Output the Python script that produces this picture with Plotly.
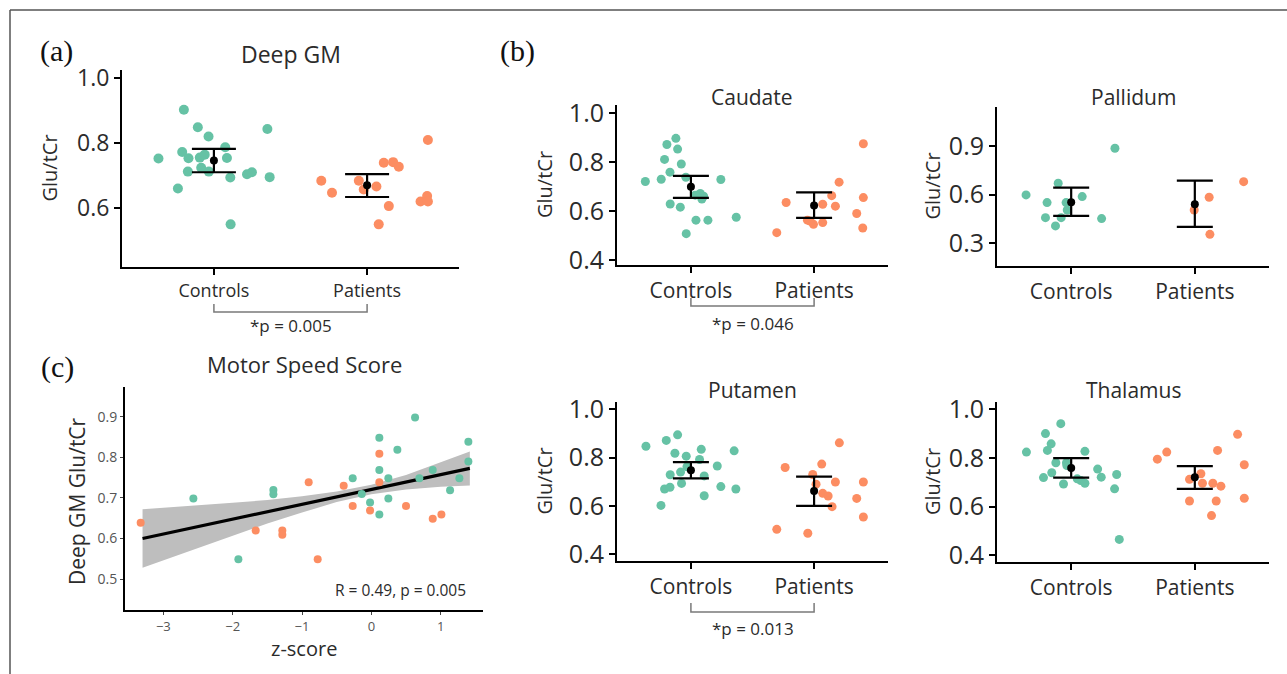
import plotly.graph_objects as go

W, H = 1287, 674
TEAL = "#66c2a5"
ORANGE = "#fc8d62"
FONT = "Open Sans"
TXT = "#2b2b2b"

groups = ["Controls", "Patients"]

# ---------------- (a) Deep GM ----------------
deep_ctrl_x = [0.804, 0.895, 0.965, 1.349, 0.638, 0.793, 0.834, 0.908, 1.074, 1.085,
               0.830, 0.917, 0.967, 1.107, 1.216, 1.248, 1.364, 0.765, 1.109, 0.940]
deep_ctrl_y = [0.903, 0.849, 0.821, 0.844, 0.753, 0.773, 0.754, 0.756, 0.788, 0.755,
               0.713, 0.725, 0.713, 0.695, 0.705, 0.711, 0.696, 0.661, 0.551, 0.765]
deep_pat_x = [1.701, 1.771, 1.946, 1.978, 2.061, 2.109, 2.170, 2.207, 2.142, 2.076,
              2.397, 2.349, 2.392, 2.397]
deep_pat_y = [0.685, 0.648, 0.685, 0.658, 0.667, 0.740, 0.742, 0.728, 0.607, 0.551,
              0.810, 0.621, 0.638, 0.621]
deep_mean = [0.747, 0.671]
deep_upper = [0.783, 0.705]
deep_lower = [0.711, 0.635]

# ---------------- (b) Caudate ----------------
caud_ctrl_x = [0.878, 0.805, 0.892, 0.786, 0.922, 0.830, 0.630, 0.759, 0.959, 1.243,
               1.076, 1.103, 1.089, 0.832, 0.914, 1.041, 1.138, 1.368, 0.962, 1.035]
caud_ctrl_y = [0.898, 0.873, 0.854, 0.812, 0.793, 0.760, 0.722, 0.731, 0.739, 0.730,
               0.673, 0.662, 0.650, 0.630, 0.617, 0.564, 0.564, 0.576, 0.509, 0.666]
caud_pat_x = [1.697, 1.773, 1.946, 1.995, 2.070, 2.070, 2.143, 2.173, 2.203, 2.400,
              2.400, 2.346, 2.395, 1.968]
caud_pat_y = [0.513, 0.636, 0.564, 0.547, 0.554, 0.629, 0.664, 0.621, 0.719, 0.876,
              0.656, 0.591, 0.532, 0.560]
caud_mean = [0.700, 0.624]
caud_upper = [0.745, 0.677]
caud_lower = [0.655, 0.573]

# ---------------- (b) Pallidum ----------------
pall_ctrl_x = [0.635, 0.895, 0.805, 0.959, 1.089, 0.968, 0.792, 0.919, 0.873, 1.246, 1.354]
pall_ctrl_y = [0.598, 0.670, 0.551, 0.551, 0.588, 0.505, 0.458, 0.458, 0.407, 0.452, 0.886]
pall_pat_x = [2.395, 2.116, 1.995, 2.122]
pall_pat_y = [0.680, 0.584, 0.505, 0.355]
pall_mean = [0.553, 0.540]
pall_upper = [0.643, 0.686]
pall_lower = [0.469, 0.401]

# ---------------- (b) Putamen ----------------
put_ctrl_x = [0.635, 0.800, 0.892, 1.084, 0.870, 0.962, 1.070, 1.351, 1.214, 0.832,
              0.916, 1.108, 0.924, 0.786, 0.830, 1.243, 1.365, 1.108, 0.757, 0.968]
put_ctrl_y = [0.847, 0.871, 0.894, 0.834, 0.818, 0.806, 0.792, 0.828, 0.765, 0.729,
              0.740, 0.724, 0.693, 0.670, 0.677, 0.680, 0.670, 0.642, 0.602, 0.762]
put_pat_x = [1.765, 1.697, 1.949, 2.062, 1.989, 2.070, 2.114, 2.146, 2.173, 2.205,
             2.346, 2.400, 2.400, 2.016]
put_pat_y = [0.759, 0.503, 0.487, 0.773, 0.730, 0.652, 0.641, 0.597, 0.699, 0.861,
             0.631, 0.699, 0.554, 0.690]
put_mean = [0.748, 0.662]
put_upper = [0.781, 0.721]
put_lower = [0.714, 0.600]

# ---------------- (b) Thalamus ----------------
thal_ctrl_x = [0.638, 0.792, 0.916, 0.838, 0.808, 0.876, 0.962, 1.111, 0.776, 0.843,
               0.938, 1.078, 1.111, 1.214, 1.243, 1.368, 1.351, 1.389, 0.965, 1.049]
thal_ctrl_y = [0.824, 0.900, 0.941, 0.858, 0.831, 0.780, 0.780, 0.827, 0.719, 0.739,
               0.693, 0.707, 0.696, 0.754, 0.721, 0.732, 0.673, 0.465, 0.769, 0.714]
thal_pat_x = [1.697, 1.773, 1.957, 2.062, 2.146, 2.211, 2.184, 1.957, 2.173, 2.135,
              2.346, 2.400, 2.400, 2.049]
thal_pat_y = [0.795, 0.824, 0.712, 0.696, 0.696, 0.684, 0.831, 0.623, 0.623, 0.563,
              0.897, 0.772, 0.634, 0.735]
thal_mean = [0.759, 0.721]
thal_upper = [0.799, 0.766]
thal_lower = [0.719, 0.673]

# ---------------- (c) Motor Speed Score ----------------
mss_ctrl_z = [0.630, 0.115, 0.375, 1.399, 1.399, 0.115, 0.885, -0.269, 0.245, 0.692,
              1.269, -1.413, -1.413, 1.135, -0.139, -0.019, 0.245, -2.567, 0.115, -1.918]
mss_ctrl_glu = [0.899, 0.849, 0.819, 0.839, 0.790, 0.769, 0.769, 0.749, 0.749, 0.749,
                0.749, 0.720, 0.709, 0.719, 0.710, 0.689, 0.699, 0.699, 0.659, 0.549]
mss_pat_z = [-3.327, -1.668, -1.284, -1.284, -0.904, -0.774, -0.399, -0.269, -0.019,
             0.115, 0.115, 0.500, 0.885, 1.010]
mss_pat_glu = [0.639, 0.620, 0.620, 0.609, 0.739, 0.549, 0.730, 0.680, 0.669, 0.809,
               0.739, 0.680, 0.649, 0.659]
fit_z = [-3.3, 1.42]
fit_glu = [0.600, 0.773]
band_z = [-3.3, -2.5, -2.0, -1.5, -1.0, -0.5, 0.0, 0.5, 1.0, 1.42]
band_upper = [0.672, 0.681, 0.688, 0.695, 0.704, 0.716, 0.733, 0.757, 0.788, 0.815]
band_lower = [0.528, 0.577, 0.608, 0.637, 0.664, 0.690, 0.709, 0.721, 0.728, 0.731]


def px(x):
    return x / W


def py(y):
    return 1 - y / H


fig = go.Figure()
annotations = []
shapes = []


def text_ann(x, y, text, size, color=TXT, family=FONT, angle=0, xanchor="center",
             xref="paper"):
    annotations.append(dict(x=x if xref != "paper" else px(x), y=py(y), xref=xref,
                            yref="paper", text=text, showarrow=False, textangle=angle,
                            xanchor=xanchor, yanchor="middle",
                            font=dict(family=family, size=size, color=color)))


def add_dot_panel(idx, cx, cy, pxs, pys, mean, upper, lower, dom_x, dom_y, yr, yt,
                  title, title_pos, ytitle_x, ms, capw, tfs, yfs, xfs):
    xa = "x" if idx == 1 else f"x{idx}"
    ya = "y" if idx == 1 else f"y{idx}"
    fig.add_trace(go.Scatter(x=cx, y=cy, mode="markers", xaxis=xa, yaxis=ya,
                             marker=dict(color=TEAL, size=ms), showlegend=False,
                             hoverinfo="skip"))
    fig.add_trace(go.Scatter(x=pxs, y=pys, mode="markers", xaxis=xa, yaxis=ya,
                             marker=dict(color=ORANGE, size=ms), showlegend=False,
                             hoverinfo="skip"))
    fig.add_trace(go.Scatter(
        x=[1, 2], y=mean, mode="markers", xaxis=xa, yaxis=ya,
        marker=dict(color="black", size=8), showlegend=False, hoverinfo="skip",
        error_y=dict(type="data", symmetric=False,
                     array=[u - m for u, m in zip(upper, mean)],
                     arrayminus=[m - l for m, l in zip(mean, lower)],
                     width=capw, thickness=2.2, color="black")))
    xkey = "xaxis" if idx == 1 else f"xaxis{idx}"
    ykey = "yaxis" if idx == 1 else f"yaxis{idx}"
    fig.layout[xkey] = dict(
        domain=[px(dom_x[0]), px(dom_x[1])], anchor=ya, range=[0.4, 2.6],
        tickvals=[1, 2], ticktext=groups, showline=True, linecolor="black",
        linewidth=2, ticks="outside", ticklen=6, tickwidth=1.5, tickcolor="black",
        showgrid=False, zeroline=False, fixedrange=True, automargin=False,
        tickfont=dict(family=FONT, size=xfs, color=TXT))
    fig.layout[ykey] = dict(
        domain=[py(dom_y[1]), py(dom_y[0])], anchor=xa, range=yr,
        tickvals=yt, ticktext=[f"{v:.1f}" for v in yt], showline=True,
        linecolor="black", linewidth=2, ticks="outside", ticklen=6, tickwidth=1.5,
        tickcolor="black", showgrid=False, zeroline=False, fixedrange=True,
        automargin=False, tickfont=dict(family=FONT, size=yfs, color=TXT))
    text_ann(title_pos[0], title_pos[1], title, tfs)
    text_ann(ytitle_x, (dom_y[0] + dom_y[1]) / 2, "Glu/tCr", 20, angle=-90)
    return xa


def add_bracket(xa, y_top, y_bot, y_text, label, fs):
    shapes.append(dict(type="path", xref=xa, yref="paper",
                       path=f"M 1,{py(y_top)} L 1,{py(y_bot)} L 2,{py(y_bot)} L 2,{py(y_top)}",
                       line=dict(color="#7a7a7a", width=1.5)))
    text_ann(1.5, y_text, label, fs, xref=xa)


# (a)
xa1 = add_dot_panel(1, deep_ctrl_x, deep_ctrl_y, deep_pat_x, deep_pat_y, deep_mean,
                    deep_upper, deep_lower, (122, 459), (70, 267), [0.42, 1.025],
                    [0.6, 0.8, 1.0], "Deep GM", (291, 54), 49, 10, 22, 23, 23, 18)
add_bracket(xa1, 304, 312, 325, "*p = 0.005", 17)

# Caudate
xa2 = add_dot_panel(2, caud_ctrl_x, caud_ctrl_y, caud_pat_x, caud_pat_y, caud_mean,
                    caud_upper, caud_lower, (617, 888), (105, 265), [0.381, 1.034],
                    [0.4, 0.6, 0.8, 1.0], "Caudate", (752, 97), 544, 9, 18, 21, 25, 21)
add_bracket(xa2, 298, 306, 323, "*p = 0.046", 17)

# Pallidum
add_dot_panel(3, pall_ctrl_x, pall_ctrl_y, pall_pat_x, pall_pat_y, pall_mean,
              pall_upper, pall_lower, (997, 1269), (107, 266), [0.16, 1.14],
              [0.3, 0.6, 0.9], "Pallidum", (1133, 97), 932, 9, 18, 21, 25, 21)

# Putamen
xa4 = add_dot_panel(4, put_ctrl_x, put_ctrl_y, put_pat_x, put_pat_y, put_mean,
                    put_upper, put_lower, (617, 888), (402, 561), [0.372, 1.03],
                    [0.4, 0.6, 0.8, 1.0], "Putamen", (752, 390), 544, 9, 18, 21, 25, 21)
add_bracket(xa4, 603, 612, 628, "*p = 0.013", 17)

# Thalamus
add_dot_panel(5, thal_ctrl_x, thal_ctrl_y, thal_pat_x, thal_pat_y, thal_mean,
              thal_upper, thal_lower, (997, 1269), (402, 562), [0.372, 1.03],
              [0.4, 0.6, 0.8, 1.0], "Thalamus", (1133, 390), 932, 9, 18, 21, 25, 21)

# (c) Motor speed score
fig.add_trace(go.Scatter(x=band_z, y=band_lower, mode="lines", xaxis="x6", yaxis="y6",
                         line=dict(width=0, color="rgba(0,0,0,0)"), showlegend=False,
                         hoverinfo="skip"))
fig.add_trace(go.Scatter(x=band_z, y=band_upper, mode="lines", xaxis="x6", yaxis="y6",
                         line=dict(width=0, color="rgba(0,0,0,0)"), fill="tonexty",
                         fillcolor="#bebebe", showlegend=False, hoverinfo="skip"))
fig.add_trace(go.Scatter(x=fit_z, y=fit_glu, mode="lines", xaxis="x6", yaxis="y6",
                         line=dict(width=3.2, color="black"), showlegend=False,
                         hoverinfo="skip"))
fig.add_trace(go.Scatter(x=mss_ctrl_z, y=mss_ctrl_glu, mode="markers", xaxis="x6",
                         yaxis="y6", marker=dict(color=TEAL, size=8), showlegend=False,
                         hoverinfo="skip"))
fig.add_trace(go.Scatter(x=mss_pat_z, y=mss_pat_glu, mode="markers", xaxis="x6",
                         yaxis="y6", marker=dict(color=ORANGE, size=8), showlegend=False,
                         hoverinfo="skip"))
fig.layout["xaxis6"] = dict(
    domain=[px(125), px(483)], anchor="y6", range=[-3.553, 1.61],
    tickvals=[-3, -2, -1, 0, 1], showline=True, linecolor="black", linewidth=2,
    ticks="outside", ticklen=3, tickwidth=1, tickcolor="#444", showgrid=False,
    zeroline=False, fixedrange=True, automargin=False,
    tickfont=dict(family=FONT, size=13, color="#555"))
fig.layout["yaxis6"] = dict(
    domain=[py(610), py(387)], anchor="x6", range=[0.4235, 0.974],
    tickvals=[0.5, 0.6, 0.7, 0.8, 0.9], ticktext=["0.5", "0.6", "0.7", "0.8", "0.9"],
    showline=True, linecolor="black", linewidth=2, ticks="outside", ticklen=3,
    tickwidth=1, tickcolor="#444", showgrid=False, zeroline=False, fixedrange=True,
    automargin=False, tickfont=dict(family=FONT, size=14, color="#555"))
text_ann(304, 364, "Motor Speed Score", 22)
text_ann(77, 501, "Deep GM Glu/tCr", 21, angle=-90)
text_ann(304, 648, "z-score", 20)
text_ann(468, 590, "R = 0.49, p = 0.005", 15.5, xanchor="right")

# panel letters
for lab, x, y in [("(a)", 56, 51), ("(b)", 517, 51), ("(c)", 57, 367)]:
    text_ann(x, y, lab, 30, color="#111", family="Liberation Serif")

# outer frame (top and left edges)
shapes.append(dict(type="line", xref="paper", yref="paper", x0=px(10), x1=1.0,
                   y0=py(10), y1=py(10), line=dict(color="#555", width=1.5)))
shapes.append(dict(type="line", xref="paper", yref="paper", x0=px(10), x1=px(10),
                   y0=py(10), y1=0.0, line=dict(color="#555", width=1.5)))

fig.update_layout(width=W, height=H, margin=dict(l=0, r=0, t=0, b=0, pad=0),
                  paper_bgcolor="white", plot_bgcolor="white",
                  annotations=annotations, shapes=shapes, showlegend=False)
fig.write_html("out.html", config={"displayModeBar": False},
               post_script="document.body.style.margin='0';"
                           "document.body.style.overflow='hidden';")
